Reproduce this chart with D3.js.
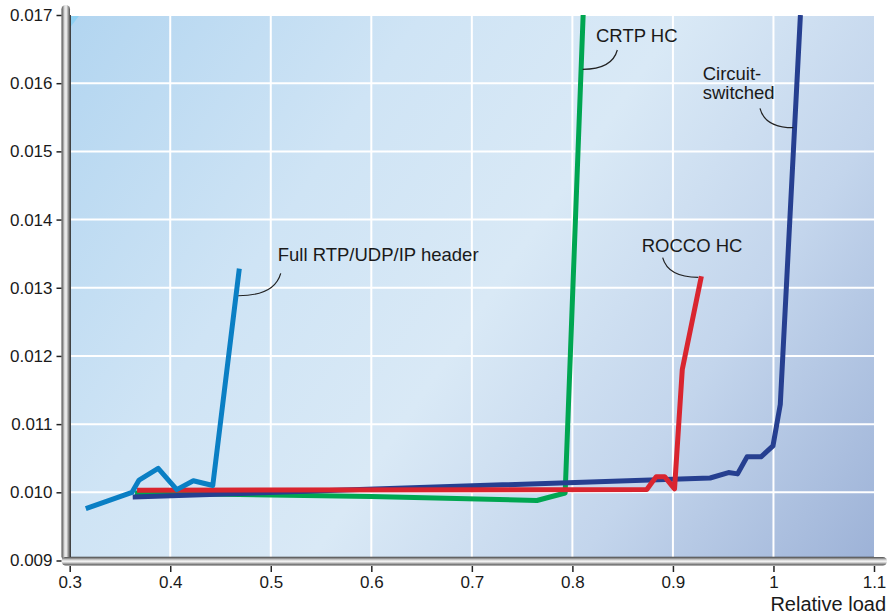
<!DOCTYPE html>
<html>
<head>
<meta charset="utf-8">
<script src="https://cdn.jsdelivr.net/npm/d3@7"></script>
<style>
  body { margin: 0; background: #fff; }
  text { font-family: "Liberation Sans", Arial, Helvetica, sans-serif; fill: #1a1a1a; }
</style>
</head>
<body>
<div id="chart"></div>
<script>
// tick values
var xTicks = [0.3, 0.4, 0.5, 0.6, 0.7, 0.8, 0.9, 1, 1.1];
var yTicks = [0.009, 0.010, 0.011, 0.012, 0.013, 0.014, 0.015, 0.016, 0.017];

// series (relative load, delay)
var fullX = [0.316, 0.362, 0.369, 0.388, 0.4065, 0.423, 0.4423, 0.4687];
var fullY = [0.00976, 0.01000, 0.01018, 0.01035, 0.01004, 0.01017, 0.01010, 0.01328];

var crtpX = [0.365, 0.60, 0.7647, 0.7928, 0.8107];
var crtpY = [0.00999, 0.00994, 0.00988, 0.00999, 0.0170];

var roccoX = [0.367, 0.874, 0.8834, 0.8917, 0.9016, 0.9093, 0.9283];
var roccoY = [0.01003, 0.01004, 0.01023, 0.01023, 0.01005, 0.0118, 0.01317];

var circX = [0.3627, 0.937, 0.9553, 0.9643, 0.9737, 0.9876, 0.9995, 1.0068, 1.0268];
var circY = [0.00993, 0.01021, 0.01029, 0.01027, 0.01052, 0.01052, 0.01068, 0.01129, 0.0170];

var W = 888, H = 616;
var pLeft = 69.7, pRight = 874, pTop = 15, pBottom = 560.5;

var svg = d3.select("#chart").append("svg")
    .attr("width", W)
    .attr("height", H);

var x = d3.scaleLinear().domain([0.3, 1.1]).range([pLeft, pRight]);
var y = d3.scaleLinear().domain([0.009, 0.017]).range([pBottom, pTop]);

var defs = svg.append("defs");

// diagonal background wash
var bg = defs.append("linearGradient")
    .attr("id", "bg")
    .attr("gradientUnits", "userSpaceOnUse")
    .attr("x1", pLeft).attr("y1", pTop)
    .attr("x2", pRight).attr("y2", pBottom);
bg.append("stop").attr("offset", "0%").attr("stop-color", "#b2d5f0");
bg.append("stop").attr("offset", "30%").attr("stop-color", "#cfe4f5");
bg.append("stop").attr("offset", "52%").attr("stop-color", "#d9e9f6");
bg.append("stop").attr("offset", "75%").attr("stop-color", "#c3d5ec");
bg.append("stop").attr("offset", "100%").attr("stop-color", "#9db2d7");

// metal tube look for axes
function tube(id, vertical) {
    var g = defs.append("linearGradient").attr("id", id)
        .attr("x1", "0%").attr("y1", "0%")
        .attr("x2", vertical ? "100%" : "0%").attr("y2", vertical ? "0%" : "100%");
    g.append("stop").attr("offset", "0%").attr("stop-color", "#4a4a4a");
    g.append("stop").attr("offset", "35%").attr("stop-color", "#d8d8d8");
    g.append("stop").attr("offset", "55%").attr("stop-color", "#f4f4f4");
    g.append("stop").attr("offset", "100%").attr("stop-color", "#505050");
}
tube("vbar", true);
tube("hbar", false);

defs.append("clipPath").attr("id", "plotClip")
  .append("rect")
    .attr("x", pLeft).attr("y", pTop)
    .attr("width", pRight - pLeft).attr("height", pBottom - pTop - 3);

// plot background
svg.append("rect")
    .attr("x", pLeft).attr("y", pTop)
    .attr("width", pRight - pLeft).attr("height", pBottom - pTop)
    .attr("fill", "url(#bg)");

// small bright corner at top-left
svg.append("path")
    .attr("d", "M" + pLeft + "," + pTop + "L" + (pLeft + 10) + "," + pTop + "L" + pLeft + "," + (pTop + 13) + "Z")
    .attr("fill", "#8fd1f3");

// grid
svg.append("g").selectAll("line")
    .data(xTicks.slice(1, -1))
    .enter().append("line")
    .attr("x1", function(d) { return x(d); })
    .attr("x2", function(d) { return x(d); })
    .attr("y1", pTop).attr("y2", pBottom)
    .attr("stroke", "#fff").attr("stroke-width", 2);

svg.append("g").selectAll("line")
    .data(yTicks.slice(1))
    .enter().append("line")
    .attr("x1", pLeft).attr("x2", pRight)
    .attr("y1", function(d) { return y(d); })
    .attr("y2", function(d) { return y(d); })
    .attr("stroke", "#fff").attr("stroke-width", 2);

// series
var series = [
    {xs: crtpX, ys: crtpY, color: "#00a651"},
    {xs: circX, ys: circY, color: "#263f90"},
    {xs: roccoX, ys: roccoY, color: "#d9252f"},
    {xs: fullX, ys: fullY, color: "#0a7fc4"}
];

var line = d3.line()
    .x(function(d) { return x(d[0]); })
    .y(function(d) { return y(d[1]); });

var lines = svg.append("g").attr("clip-path", "url(#plotClip)");
series.forEach(function(s) {
    var pts = s.xs.map(function(v, i) { return [v, s.ys[i]]; });
    lines.append("path")
        .attr("d", line(pts))
        .attr("fill", "none")
        .attr("stroke", s.color)
        .attr("stroke-width", 5)
        .attr("stroke-linejoin", "round");
});

// annotations: label position, leader start and leader end in data units
var labels = [
    {lines: ["Full RTP/UDP/IP header"], lx: 0.5069, ly: 0.013397, sx: 0.5099, sy: 0.013212, ax: 0.4677, ay: 0.012883},
    {lines: ["CRTP HC"], lx: 0.8235, ly: 0.016608, sx: 0.8447, sy: 0.016487, ax: 0.8102, ay: 0.016204},
    {lines: ["Circuit-", "switched"], lx: 0.9296, ly: 0.016047, sx: 0.9866, sy: 0.015632, ax: 1.0197, ay: 0.015347},
    {lines: ["ROCCO HC"], lx: 0.8689, ly: 0.013529, sx: 0.8898, sy: 0.013441, ax: 0.9252, ay: 0.013153}
];

var ann = svg.append("g");
labels.forEach(function(a) {
    var t = ann.append("text")
        .attr("x", x(a.lx))
        .attr("y", y(a.ly))
        .style("font-size", "18.5px");
    a.lines.forEach(function(s, i) {
        t.append("tspan")
            .attr("x", x(a.lx))
            .attr("dy", i === 0 ? 0 : 19.5)
            .text(s);
    });
    var x0 = x(a.sx), y0 = y(a.sy), x1 = x(a.ax), y1 = y(a.ay);
    var cx = x0 + (x1 - x0) * 0.15, cy = y1;
    ann.append("path")
        .attr("d", "M" + x0 + "," + y0 + "Q" + cx + "," + cy + " " + x1 + "," + y1)
        .attr("fill", "none")
        .attr("stroke", "#222")
        .attr("stroke-width", 1.2);
});

// dark inner edge of frame
svg.append("path")
    .attr("d", "M" + (pLeft + 0.5) + "," + pTop + "V" + (pBottom - 3) + "H" + pRight)
    .attr("fill", "none").attr("stroke", "#3a3a3a").attr("stroke-width", 1.5);

// axis tubes
svg.append("rect")
    .attr("x", 61.5).attr("y", 5)
    .attr("width", 8.5).attr("height", pBottom - 5)
    .attr("rx", 4.2)
    .attr("fill", "url(#vbar)");
svg.append("rect")
    .attr("x", 61.5).attr("y", pBottom - 3.5)
    .attr("width", 887 - 61.5).attr("height", 8.5)
    .attr("rx", 4.2)
    .attr("fill", "url(#hbar)");

// y axis ticks and labels
var yAxis = d3.axisLeft(y)
    .tickValues(yTicks)
    .tickFormat(d3.format(".3f"))
    .tickSizeInner(5)
    .tickSizeOuter(0)
    .tickPadding(4);
var gy = svg.append("g").attr("transform", "translate(61.5,0)").call(yAxis);
gy.select(".domain").remove();
gy.selectAll(".tick line").attr("stroke", "#222").attr("stroke-width", 1.5);
gy.selectAll(".tick text")
    .style("font-size", "17px")
    .style("font-family", "'Liberation Sans', Arial, Helvetica, sans-serif")
    .attr("fill", "#1a1a1a");

// x axis ticks and labels
var xAxis = d3.axisBottom(x)
    .tickValues(xTicks)
    .tickFormat(function(d) { return d === 1 ? "1" : d3.format(".1f")(d); })
    .tickSizeInner(6)
    .tickSizeOuter(0)
    .tickPadding(4);
var gx = svg.append("g").attr("transform", "translate(0," + (pBottom + 5.5) + ")").call(xAxis);
gx.select(".domain").remove();
gx.selectAll(".tick line").attr("stroke", "#222").attr("stroke-width", 1.5);
gx.selectAll(".tick text")
    .style("font-size", "17px")
    .style("font-family", "'Liberation Sans', Arial, Helvetica, sans-serif")
    .attr("fill", "#1a1a1a");

svg.append("text")
    .attr("x", 886)
    .attr("y", 611)
    .attr("text-anchor", "end")
    .style("font-size", "20px")
    .text("Relative load");
</script>
</body>
</html>
